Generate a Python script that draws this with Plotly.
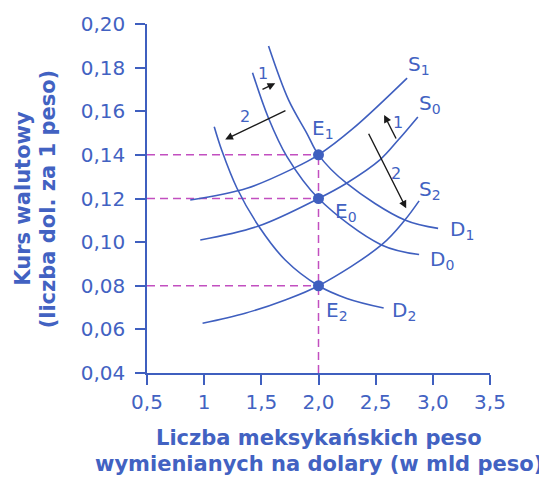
import plotly.graph_objects as go

# ---- data (quantity in bln peso, rate in USD per peso) ----
s1_x = [0.878, 1.374, 1.781, 2.0, 2.30, 2.775]
s1_y = [0.1193, 0.1247, 0.1338, 0.14, 0.152, 0.1752]
s0_x = [0.966, 1.476, 2.0, 2.245, 2.537, 2.697, 2.869]
s0_y = [0.1010, 0.1074, 0.12, 0.1270, 0.1377, 0.1468, 0.1574]
s2_x = [0.986, 1.359, 1.709, 2.0, 2.551, 2.755, 2.88]
s2_y = [0.0628, 0.0674, 0.0735, 0.08, 0.0987, 0.1101, 0.1189]
d1_x = [1.563, 1.738, 1.898, 2.0, 2.245, 2.755, 3.046]
d1_y = [0.1899, 0.1652, 0.1499, 0.14, 0.1270, 0.1101, 0.1063]
d0_x = [1.423, 1.563, 1.724, 2.0, 2.551, 2.88]
d0_y = [0.1777, 0.1568, 0.1392, 0.12, 0.0987, 0.0943]
d2_x = [1.088, 1.153, 1.287, 1.476, 1.709, 2.0, 2.248, 2.57]
d2_y = [0.1529, 0.1422, 0.1247, 0.1074, 0.0918, 0.08, 0.0742, 0.0698]

eq_x = [2.0, 2.0, 2.0]
eq_y = [0.14, 0.12, 0.08]

curve_labels = ["S<sub>1</sub>", "S<sub>0</sub>", "S<sub>2</sub>",
                "E<sub>1</sub>", "E<sub>0</sub>", "E<sub>2</sub>",
                "D<sub>1</sub>", "D<sub>0</sub>", "D<sub>2</sub>"]
label_x = [2.762, 2.863, 2.863, 1.928, 2.128, 2.05, 3.134, 2.959, 2.626]
label_y = [0.1812, 0.1631, 0.1241, 0.1519, 0.1140, 0.0686, 0.1056, 0.0918, 0.0686]

# shift arrows: tail -> head
arrow_tail_x = [1.497, 1.724, 2.685, 2.432]
arrow_tail_y = [0.1697, 0.1606, 0.1468, 0.1504]
arrow_head_x = [1.622, 1.184, 2.574, 2.767]
arrow_head_y = [0.1728, 0.1471, 0.1583, 0.1155]
arrow_text = ["1", "2", "1", "2"]
arrow_text_x = [1.517, 1.359, 2.697, 2.679]
arrow_text_y = [0.1775, 0.1575, 0.1548, 0.1316]

x_ticks = [0.5, 1.0, 1.5, 2.0, 2.5, 3.0, 3.5]
x_ticktext = ["0,5", "1", "1,5", "2,0", "2,5", "3,0", "3,5"]
y_ticks = [0.04, 0.06, 0.08, 0.10, 0.12, 0.14, 0.16, 0.18, 0.20]
y_ticktext = ["0,04", "0,06", "0,08", "0,10", "0,12", "0,14", "0,16", "0,18", "0,20"]

x_title_lines = ["Liczba meksykańskich peso", "wymienianych na dolary (w mld peso)"]
y_title_lines = ["Kurs walutowy", "(liczba dol. za 1 peso)"]

BLUE = "#3f5fbf"
TXT = "#4262c2"
MAG = "#c24fc0"
FONT = "DejaVu Sans"

fig = go.Figure()

# dashed guide lines
for yv in eq_y:
    fig.add_trace(go.Scatter(x=[x_ticks[0], eq_x[0]], y=[yv, yv], mode="lines",
                             line=dict(color=MAG, width=1.5, dash="8px,5px"),
                             hoverinfo="skip", showlegend=False))
fig.add_trace(go.Scatter(x=[eq_x[0], eq_x[0]], y=[y_ticks[0], max(eq_y)], mode="lines",
                         line=dict(color=MAG, width=1.5, dash="8px,5px"),
                         hoverinfo="skip", showlegend=False))

for cx, cy in [(s1_x, s1_y), (s0_x, s0_y), (s2_x, s2_y),
               (d1_x, d1_y), (d0_x, d0_y), (d2_x, d2_y)]:
    fig.add_trace(go.Scatter(x=cx, y=cy, mode="lines",
                             line=dict(color=BLUE, width=1.6, shape="spline", smoothing=1.0),
                             hoverinfo="skip", showlegend=False))

fig.add_trace(go.Scatter(x=eq_x, y=eq_y, mode="markers",
                         marker=dict(color=BLUE, size=11), showlegend=False))

for t, lx, ly in zip(curve_labels, label_x, label_y):
    fig.add_annotation(x=lx, y=ly, text=t, showarrow=False, xanchor="left", yanchor="middle",
                       font=dict(family=FONT, size=20, color=TXT))

for tx, ty, hx, hy in zip(arrow_tail_x, arrow_tail_y, arrow_head_x, arrow_head_y):
    fig.add_annotation(x=hx, y=hy, ax=tx, ay=ty, axref="x", ayref="y", xref="x", yref="y",
                       text="", showarrow=True, arrowhead=2, arrowsize=1.1, arrowwidth=1.4,
                       arrowcolor="#1a1a1a")

for t, lx, ly in zip(arrow_text, arrow_text_x, arrow_text_y):
    fig.add_annotation(x=lx, y=ly, text=t, showarrow=False,
                       font=dict(family=FONT, size=16, color=TXT))

# axis titles (two lines each, tighter spacing than plotly's default)
for t, py in zip(x_title_lines, [-0.186, -0.261]):
    fig.add_annotation(xref="paper", yref="paper", x=0.5015, y=py, text="<b>" + t + "</b>",
                       showarrow=False, xanchor="center", yanchor="middle",
                       font=dict(family=FONT, size=21, color=TXT))
for t, px in zip(y_title_lines, [-0.364, -0.289]):
    fig.add_annotation(xref="paper", yref="paper", x=px, y=0.5, text="<b>" + t + "</b>",
                       showarrow=False, xanchor="center", yanchor="middle", textangle=-90,
                       font=dict(family=FONT, size=21, color=TXT))

fig.update_layout(
    width=539, height=471,
    margin=dict(l=139, r=57, t=16, b=106),
    plot_bgcolor="white", paper_bgcolor="white",
    font=dict(family=FONT, color=TXT),
    xaxis=dict(range=[0.5, 3.5], tickvals=x_ticks, ticktext=x_ticktext, automargin=False,
               showgrid=False, zeroline=False, showline=True, linecolor=BLUE, linewidth=1.5,
               ticks="outside", ticklen=10, tickcolor=BLUE, tickwidth=1.5,
               tickfont=dict(family=FONT, size=20, color=TXT)),
    yaxis=dict(range=[0.04, 0.20], tickvals=y_ticks, ticktext=y_ticktext, automargin=False,
               showgrid=False, zeroline=False, showline=True, linecolor=BLUE, linewidth=1.5,
               ticks="outside", ticklen=10, tickcolor=BLUE, tickwidth=1.5,
               ticklabelstandoff=6,
               tickfont=dict(family=FONT, size=20, color=TXT)),
)

fig.write_html("out.html")
